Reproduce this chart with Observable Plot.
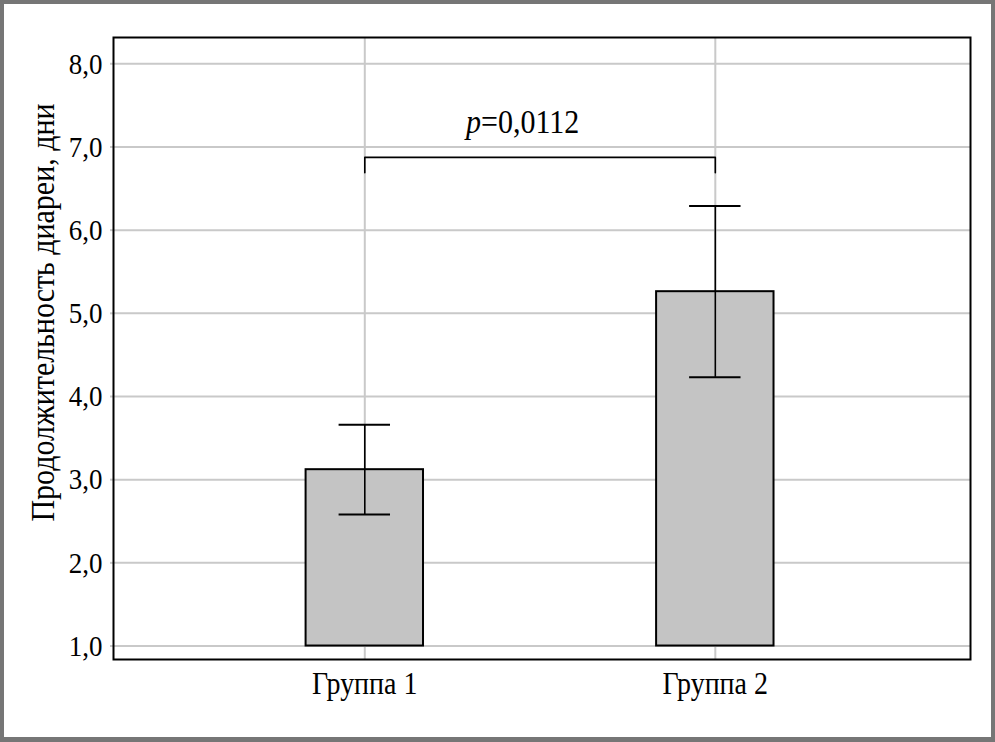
<!DOCTYPE html>
<html>
<head>
<meta charset="utf-8">
<script src="https://cdn.jsdelivr.net/npm/d3@7"></script>
<script src="https://cdn.jsdelivr.net/npm/@observablehq/plot@0.6"></script>
<style>
  html, body { margin: 0; padding: 0; background: #fff; }
  #wrap { position: relative; width: 995px; height: 742px; overflow: hidden; }
  #border { position: absolute; left: 0; top: 0; width: 995px; height: 742px; box-sizing: border-box; border: 4px solid #767676; border-bottom-width: 5px; pointer-events: none; }
  svg { display: block; }
  #chart svg, #chart svg text { font-family: "Liberation Serif", "Times New Roman", Times, serif !important; }
</style>
</head>
<body>
<div id="wrap"><div id="chart"></div><div id="border"></div></div>
<script>
// ---- data ----
const groups = ["Группа 1", "Группа 2"];
const means = [3.12, 5.26];
const errors = [0.54, 1.03];
const yTicks = [1, 2, 3, 4, 5, 6, 7, 8];
const baseline = 1;
const yLabel = "Продолжительность диареи, дни";
const pName = ["p"];
const pValue = ["=0,0112"];
const bracketLevels = [6.69, 6.875];   // bracket leg bottom, bracket top
const pLabelY = [7.18];

const data = groups.map((g, i) => ({group: g, mean: means[i], lo: means[i] - errors[i], hi: means[i] + errors[i]}));
const bracket = [
  {group: groups[0], y: bracketLevels[0]},
  {group: groups[0], y: bracketLevels[1]},
  {group: groups[1], y: bracketLevels[1]},
  {group: groups[1], y: bracketLevels[0]}
];
const pLabel = [{name: pName[0], value: pValue[0], y: pLabelY[0]}];

const font = "Liberation Serif";
const fmt = d => d.toFixed(1).replace(".", ",");
const gridColor = "#c9c9c9";

const chart = Plot.plot({
  width: 995,
  height: 742,
  marginLeft: 113,
  marginRight: 25,
  marginTop: 37,
  marginBottom: 83,
  style: {fontFamily: font, background: "white", color: "black"},
  x: {type: "band", domain: groups, paddingInner: 0.665, paddingOuter: 0.555, align: 0.495, round: false, label: null},
  y: {domain: [0.838, 8.316], label: null},
  marks: [
    Plot.gridY(yTicks, {stroke: gridColor, strokeOpacity: 1, strokeWidth: 2}),
    Plot.gridX(groups, {stroke: gridColor, strokeOpacity: 1, strokeWidth: 2}),
    Plot.axisY(yTicks, {tickFormat: fmt, tickSize: 3, tickPadding: 8, stroke: gridColor, strokeWidth: 2, fill: "black", fontSize: 27, fontFamily: font, label: null}),
    Plot.axisX({tickSize: 0, tickPadding: 13, fontSize: 28, fontFamily: font, fill: "black", label: null}),
    Plot.barY(data, {x: "group", y1: baseline, y2: "mean", fill: "#c4c4c4", stroke: "black", strokeWidth: 2}),
    Plot.ruleX(data, {x: "group", y1: "lo", y2: "hi", stroke: "black", strokeWidth: 1.6}),
    Plot.tickY(data, {x: "group", y: "hi", insetLeft: 33, insetRight: 33, stroke: "black", strokeWidth: 2}),
    Plot.tickY(data, {x: "group", y: "lo", insetLeft: 33, insetRight: 33, stroke: "black", strokeWidth: 2}),
    Plot.line(bracket, {x: "group", y: "y", stroke: "black", strokeWidth: 1.6}),
    Plot.text(pLabel, {y: "y", text: "name", textAnchor: "end", lineAnchor: "bottom", dx: -61, fontSize: 30, fontFamily: font, fontStyle: "italic", fill: "black"}),
    Plot.text(pLabel, {y: "y", text: "value", textAnchor: "start", lineAnchor: "bottom", dx: -61, fontSize: 30, fontFamily: font, fill: "black"}),
    Plot.text([yLabel], {frameAnchor: "left", text: d => d, rotate: -90, textAnchor: "middle", lineAnchor: "middle", dx: -70, dy: -36, fontSize: 30, fontFamily: font, fill: "black"}),
    Plot.frame({stroke: "black", strokeWidth: 2})
  ]
});

document.getElementById("chart").appendChild(chart);

// Slight vertical stretch of glyphs, as in the reference typography
chart.querySelectorAll("text").forEach(t => {
  const b = t.getBBox();
  const cy = b.y + b.height / 2;
  const tr = t.getAttribute("transform") || "";
  t.setAttribute("transform", `${tr} translate(0,${cy}) scale(1,1.12) translate(0,${-cy})`.trim());
});
</script>
</body>
</html>
